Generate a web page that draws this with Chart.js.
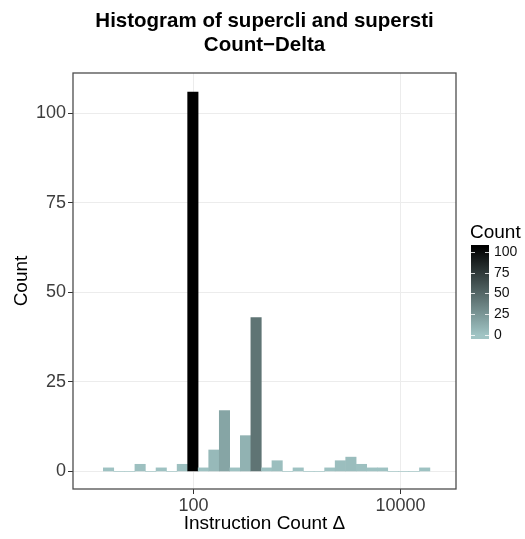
<!DOCTYPE html>
<html>
<head>
<meta charset="utf-8">
<script src="https://cdn.jsdelivr.net/npm/chart.js@4.4.1/dist/chart.umd.min.js"></script>
<style>
  html, body { margin: 0; padding: 0; background: #fff; }
</style>
</head>
<body>
<canvas id="histChart" width="525" height="539"></canvas>
<script>
// bin centres of the log-spaced histogram (instruction count delta) and their counts
const binCenters = [15.1, 19.1, 24.2, 30.5, 38.6, 48.8, 61.7, 78.0, 98.6, 124.6, 157.5,
  199.2, 251.8, 318.3, 402.3, 508.6, 642.9, 812.8, 1027, 1299, 1642, 2076, 2624, 3317,
  4194, 5302, 6702, 8472, 10710, 13540, 17120];
const counts = [1, 0, 0, 2, 0, 1, 0, 2, 106, 1, 6, 17, 1, 10, 43, 1, 3, 0, 1, 0, 0, 1,
  3, 4, 2, 1, 1, 0, 0, 0, 1];
const xTicks = [100, 10000];
const yTicks = [0, 25, 50, 75, 100];
const legendTicks = [0, 25, 50, 75, 100];
const titleLines = ['Histogram of supercli and supersti', 'Count\u2212Delta'];

const FONT = "'Liberation Sans', Arial, Helvetica, sans-serif";
const lowColor = [160, 196, 196];
const highColor = [0, 0, 0];
const maxCount = Math.max(...counts);

function fillFor(count) {
    let t = count / maxCount;
    let c = lowColor.map((lo, i) => Math.round(lo + (highColor[i] - lo) * t));
    return `rgb(${c[0]},${c[1]},${c[2]})`;
}

// title centred over the panel, like ggplot does
const titlePlugin = {
    id: 'ggTitle',
    afterDraw(chart) {
        let ctx = chart.ctx;
        let area = chart.chartArea;
        let cx = (area.left + area.right) / 2;
        ctx.save();
        ctx.fillStyle = '#000';
        ctx.font = `bold 20.5px ${FONT}`;
        ctx.textAlign = 'center';
        ctx.textBaseline = 'middle';
        ctx.fillText(titleLines[0], cx, 21);
        ctx.fillText(titleLines[1], cx, 45);
        ctx.restore();
    }
};

// full panel border
const borderPlugin = {
    id: 'panelBorder',
    afterDatasetsDraw(chart) {
        let ctx = chart.ctx;
        let a = chart.chartArea;
        ctx.save();
        ctx.strokeStyle = '#4d4d4d';
        ctx.lineWidth = 1.3;
        ctx.strokeRect(a.left, a.top, a.right - a.left, a.bottom - a.top);
        ctx.restore();
    }
};

// colourbar legend on the right
const colorbarPlugin = {
    id: 'colorbar',
    afterDraw(chart) {
        let ctx = chart.ctx;
        let x0 = 471, w = 18, top = 245, bottom = 339;
        let zeroY = 335, maxY = 247;
        let yFor = v => zeroY - v * (zeroY - maxY) / maxCount;

        ctx.save();
        ctx.fillStyle = '#000';
        ctx.font = `19px ${FONT}`;
        ctx.textAlign = 'left';
        ctx.textBaseline = 'middle';
        ctx.fillText('Count', 470, 233);

        let grad = ctx.createLinearGradient(0, yFor(0), 0, yFor(maxCount));
        grad.addColorStop(0, fillFor(0));
        grad.addColorStop(0.5, fillFor(maxCount / 2));
        grad.addColorStop(1, fillFor(maxCount));
        ctx.fillStyle = grad;
        ctx.fillRect(x0, top, w, bottom - top);

        ctx.strokeStyle = 'rgba(255,255,255,0.8)';
        ctx.lineWidth = 1;
        ctx.font = `14px ${FONT}`;
        ctx.fillStyle = '#111';
        legendTicks.forEach(v => {
            let y = Math.round(yFor(v)) + 0.5;
            ctx.beginPath();
            ctx.moveTo(x0, y); ctx.lineTo(x0 + 4, y);
            ctx.moveTo(x0 + w - 4, y); ctx.lineTo(x0 + w, y);
            ctx.stroke();
            ctx.fillText(String(v), 494, yFor(v));
        });
        ctx.restore();
    }
};

let ctx = document.getElementById('histChart').getContext('2d');
let chartInstance = new Chart(ctx, {
    type: 'bar',
    data: {
        datasets: [{
            data: binCenters.map((x, i) => ({ x: x, y: counts[i] })),
            backgroundColor: counts.map(fillFor),
            borderWidth: 0,
            barPercentage: 1,
            categoryPercentage: 1
        }]
    },
    options: {
        responsive: false,
        animation: false,
        devicePixelRatio: 1,
        layout: { padding: { top: 73, right: 69, left: 0, bottom: 0 } },
        plugins: {
            legend: { display: false },
            tooltip: { enabled: false },
            title: { display: false }
        },
        scales: {
            x: {
                type: 'logarithmic',
                min: 6.85,
                max: 34360,
                offset: false,
                afterBuildTicks: scale => { scale.ticks = xTicks.map(v => ({ value: v })); },
                afterFit: scale => { scale.height = 50; },
                grid: { color: '#ececec', lineWidth: 1, tickColor: '#333', tickLength: 5, offset: false },
                border: { display: false },
                ticks: {
                    color: '#3d3d3d',
                    font: { family: FONT, size: 18 },
                    padding: 1,
                    maxRotation: 0,
                    autoSkip: false,
                    callback: v => String(v)
                },
                title: {
                    display: true,
                    text: 'Instruction Count \u0394',
                    color: '#000',
                    font: { family: FONT, size: 19 },
                    padding: { top: 0, bottom: 4 }
                }
            },
            y: {
                min: -4.9,
                max: 111.3,
                afterBuildTicks: scale => { scale.ticks = yTicks.map(v => ({ value: v })); },
                afterFit: scale => { scale.width = 73; },
                grid: { color: '#ececec', lineWidth: 1, tickColor: '#333', tickLength: 5 },
                border: { display: false },
                ticks: {
                    color: '#3d3d3d',
                    font: { family: FONT, size: 18 },
                    padding: 2
                },
                title: {
                    display: true,
                    text: 'Count',
                    color: '#000',
                    font: { family: FONT, size: 19 },
                    padding: { top: 10, bottom: 0 }
                }
            }
        }
    },
    plugins: [titlePlugin, borderPlugin, colorbarPlugin]
});
</script>
</body>
</html>
